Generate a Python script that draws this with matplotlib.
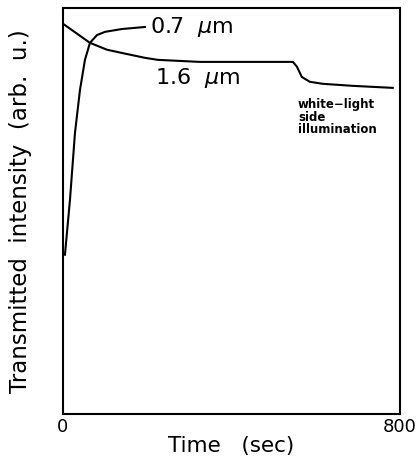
import matplotlib
matplotlib.use("Agg")
import matplotlib.pyplot as plt

# 0.7 um probe: fast rise after switch-on
t_07 = [4.7, 16.6, 28.5, 40.4, 52.2, 64.1, 80.7, 99.7, 140, 194.7]
i_07 = [0.392, 0.527, 0.692, 0.798, 0.872, 0.914, 0.933, 0.941, 0.948, 0.953]

# 1.6 um probe: slow decay, then drop under white-light side illumination
t_16 = [0, 64, 104.5, 140, 194.7, 225.5, 325, 546, 555.6, 567, 586, 617, 688, 783]
i_16 = [0.961, 0.914, 0.897, 0.889, 0.877, 0.872, 0.867, 0.867, 0.855, 0.830,
        0.818, 0.813, 0.808, 0.803]

x_ticks = [0, 800]

plt.rcParams["font.family"] = ["DejaVu Sans"]
plt.rcParams["mathtext.fontset"] = "dejavusans"

fig = plt.figure(figsize=(4.17, 4.65), dpi=100)
ax = fig.add_axes([0.151, 0.110, 0.808, 0.873])

ax.plot(t_07, i_07, color="black", lw=1.5)
ax.plot(t_16, i_16, color="black", lw=1.5)

ax.text(207, 0.953, r"0.7  $\mu$m", fontsize=16, va="center", ha="left")
ax.text(218, 0.828, r"1.6  $\mu$m", fontsize=16, va="center", ha="left")
ax.text(558, 0.778, "white\u2212light\nside\nillumination", fontsize=8.5,
        fontweight="bold", va="top", ha="left", linespacing=0.95)

ax.set_xlim(0, 800)
ax.set_ylim(0, 1)
ax.set_xticks(x_ticks)
ax.set_xticklabels([str(v) for v in x_ticks], fontsize=13)
ax.set_yticks([])
ax.tick_params(axis="x", length=0, pad=3)
for s in ax.spines.values():
    s.set_linewidth(1.5)

ax.set_xlabel("Time   (sec)", fontsize=15.5, labelpad=0)
ax.set_ylabel("Transmitted  intensity  (arb.  u.)", fontsize=16.5, labelpad=22)

fig.savefig("out.png", dpi=100)
